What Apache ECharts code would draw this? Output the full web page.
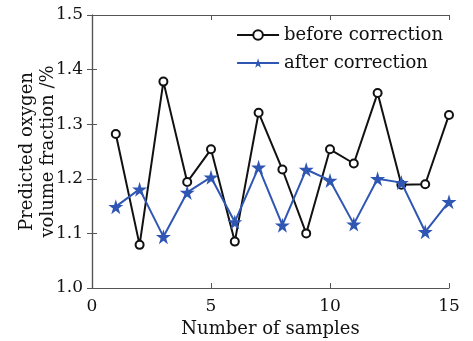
<!DOCTYPE html>
<html>
<head>
<meta charset="utf-8">
<script src="https://cdn.jsdelivr.net/npm/echarts@6/dist/echarts.min.js"></script>
<style>
  html, body { margin: 0; padding: 0; background: #fff; }
  #chart { width: 473px; height: 341px; }
</style>
</head>
<body>
<div id="chart"></div>
<script>
const samples = [1, 2, 3, 4, 5, 6, 7, 8, 9, 10, 11, 12, 13, 14, 15];
const beforeCorrection = [1.282, 1.079, 1.378, 1.194, 1.254, 1.085, 1.321, 1.217, 1.100, 1.254, 1.228, 1.357, 1.189, 1.190, 1.317];
const afterCorrection = [1.149, 1.181, 1.094, 1.175, 1.203, 1.121, 1.221, 1.115, 1.217, 1.197, 1.117, 1.200, 1.193, 1.103, 1.158];

const FONT = "DejaVu Serif";
const STAR = "path://M50,0 L61,35 L98,35 L68,57 L79,91 L50,70 L21,91 L32,57 L2,35 L39,35 Z";
const AXIS_COLOR = "#555";

function pairs(values) {
  return samples.map((s, i) => [s, values[i]]);
}

const chart = echarts.init(document.getElementById("chart"));

const baseAxis = {
  axisLine: { show: true, lineStyle: { color: AXIS_COLOR, width: 1.2 } },
  axisTick: { show: true, inside: true, length: 5, lineStyle: { color: AXIS_COLOR } },
  splitLine: { show: false },
};

chart.setOption({
  animation: false,
  grid: { left: 92, right: 24, top: 15, bottom: 53, outerBoundsMode: "none" },
  legend: {
    top: 21,
    right: 25,
    orient: "vertical",
    itemWidth: 42,
    itemHeight: 12,
    itemGap: 10,
    textStyle: { fontFamily: FONT, fontSize: 18, color: "#111" },
    data: ["before correction", "after correction"],
  },
  xAxis: [
    {
      ...baseAxis,
      type: "value",
      min: 0,
      max: 15,
      interval: 5,
      name: "Number of samples",
      nameLocation: "middle",
      nameGap: 32,
      nameTextStyle: { fontFamily: FONT, fontSize: 18, color: "#111" },
      axisLabel: { fontFamily: FONT, fontSize: 17, color: "#111", margin: 10 },
    },
    {
      ...baseAxis,
      type: "value",
      position: "top",
      min: 0,
      max: 15,
      interval: 5,
      axisLabel: { show: false },
    },
  ],
  yAxis: [
    {
      ...baseAxis,
      type: "value",
      min: 1.0,
      max: 1.5,
      interval: 0.1,
      name: "Predicted oxygen\nvolume fraction /%",
      nameLocation: "middle",
      nameRotate: 90,
      nameGap: 33,
      nameMoveOverlap: false,
      nameTextStyle: { fontFamily: FONT, fontSize: 18, color: "#111", lineHeight: 21 },
      axisLabel: {
        fontFamily: FONT,
        fontSize: 17,
        color: "#111",
        margin: 9,
        formatter: (v) => v.toFixed(1),
      },
    },
    {
      ...baseAxis,
      type: "value",
      position: "right",
      min: 1.0,
      max: 1.5,
      interval: 0.1,
      axisLabel: { show: false },
    },
  ],
  series: [
    {
      name: "before correction",
      type: "line",
      data: pairs(beforeCorrection),
      symbol: "emptyCircle",
      symbolSize: 8,
      lineStyle: { color: "#111", width: 2 },
      itemStyle: { color: "#111", borderWidth: 1.5 },
      z: 2,
    },
    {
      name: "after correction",
      type: "line",
      data: pairs(afterCorrection),
      symbol: STAR,
      symbolSize: 15,
      lineStyle: { color: "#2f56b3", width: 2 },
      itemStyle: { color: "#2f56b3" },
      z: 3,
    },
  ],
});
</script>
</body>
</html>
